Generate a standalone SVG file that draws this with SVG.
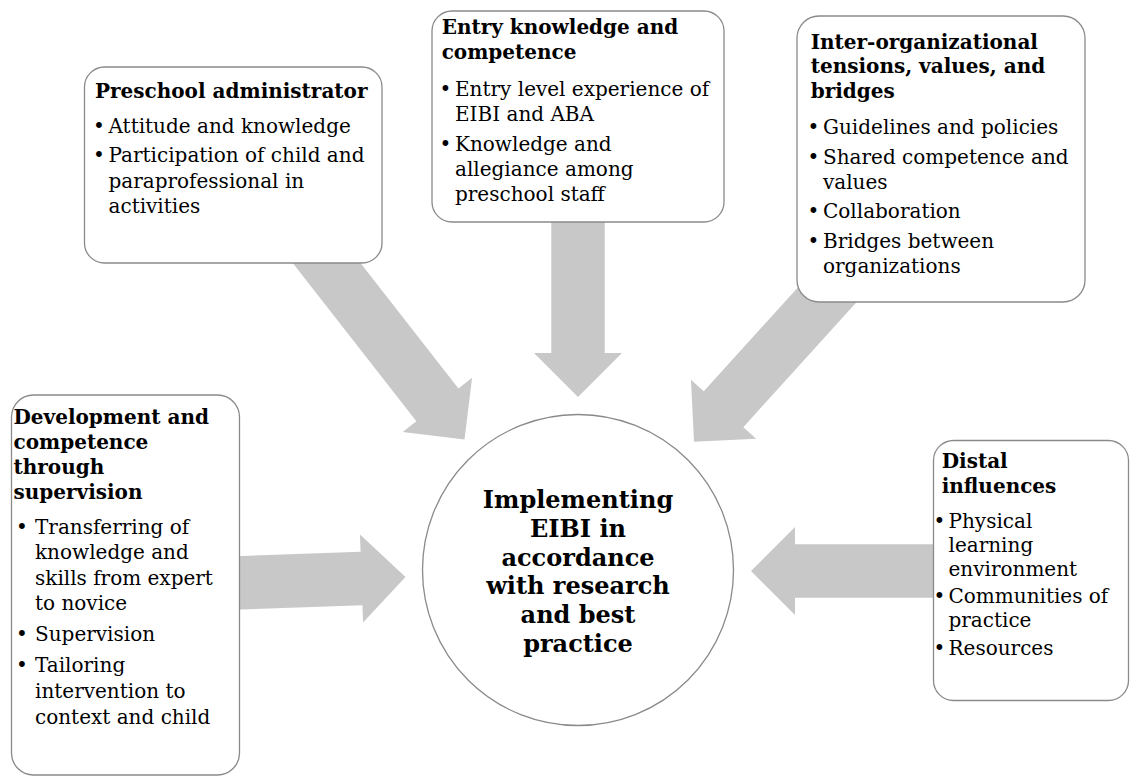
<svg xmlns="http://www.w3.org/2000/svg" width="1131" height="776" viewBox="0 0 1131 776">
<style>
.box{fill:#fff;stroke:#8a8a8a;stroke-width:1.3}
.arrow{fill:#c8c8c8}
.t{font-family:"DejaVu Serif","Liberation Serif",serif;font-weight:bold;font-size:20px;fill:#000}
.b{font-family:"DejaVu Serif","Liberation Serif",serif;font-size:20px;fill:#000}
.c{font-family:"DejaVu Serif","Liberation Serif",serif;font-weight:bold;font-size:24px;fill:#000;text-anchor:middle}
.d{text-anchor:middle}
</style>
<rect width="1131" height="776" fill="#fff"/>
<g id="connectors">
<path class="arrow" transform="translate(578,397) rotate(90)" d="M0,0 L-44,-44 L-44,-26.7 L-192,-26.7 L-192,26.7 L-44,26.7 L-44,44 Z"/>
<path class="arrow" transform="translate(464.5,439.5) rotate(52)" d="M0,0 L-44,-44 L-44,-26.7 L-260,-26.7 L-260,26.7 L-44,26.7 L-44,44 Z"/>
<path class="arrow" transform="translate(694,441.8) rotate(132.2)" d="M0,0 L-44,-44 L-44,-26.7 L-230,-26.7 L-230,26.7 L-44,26.7 L-44,44 Z"/>
<path class="arrow" transform="translate(405.5,577) rotate(-2)" d="M0,0 L-44,-44 L-44,-26.7 L-190,-26.7 L-190,26.7 L-44,26.7 L-44,44 Z"/>
<path class="arrow" transform="translate(751,571) rotate(180)" d="M0,0 L-44,-44 L-44,-26.7 L-210,-26.7 L-210,26.7 L-44,26.7 L-44,44 Z"/>
</g>
<g id="center">
<circle class="box" cx="578" cy="570" r="155.5"/>
<text class="c" x="578" y="508.3">Implementing</text>
<text class="c" x="578" y="537">EIBI in</text>
<text class="c" x="578" y="565.7">accordance</text>
<text class="c" x="578" y="594.4">with research</text>
<text class="c" x="578" y="623.1">and best</text>
<text class="c" x="578" y="651.8">practice</text>
</g>
<g id="preschool-administrator">
<rect class="box" x="84.5" y="67" width="297.5" height="196" rx="20"/>
<text class="t" x="95" y="97.5">Preschool administrator</text>
<text class="b d" x="99" y="133">•</text><text class="b" x="108.5" y="133">Attitude and knowledge</text>
<text class="b d" x="99" y="162">•</text><text class="b" x="108.5" y="162">Participation of child and</text>
<text class="b" x="108.5" y="187.5">paraprofessional in</text>
<text class="b" x="108.5" y="213">activities</text>
</g>
<g id="entry-knowledge">
<rect class="box" x="432" y="11" width="292" height="211" rx="20"/>
<text class="t" x="441.7" y="34">Entry knowledge and</text>
<text class="t" x="441.7" y="58.5">competence</text>
<text class="b d" x="445.5" y="96">•</text><text class="b" x="455" y="96">Entry level experience of</text>
<text class="b" x="455" y="121">EIBI and ABA</text>
<text class="b d" x="445.5" y="151">•</text><text class="b" x="455" y="151">Knowledge and</text>
<text class="b" x="455" y="176">allegiance among</text>
<text class="b" x="455" y="201">preschool staff</text>
</g>
<g id="inter-organizational">
<rect class="box" x="797" y="16" width="288" height="286" rx="22"/>
<text class="t" x="810.7" y="48.5">Inter-organizational</text>
<text class="t" x="810.7" y="73">tensions, values, and</text>
<text class="t" x="810.7" y="97.5">bridges</text>
<text class="b d" x="813.5" y="133.5">•</text><text class="b" x="823" y="133.5">Guidelines and policies</text>
<text class="b d" x="813.5" y="164">•</text><text class="b" x="823" y="164">Shared competence and</text>
<text class="b" x="823" y="188.5">values</text>
<text class="b d" x="813.5" y="218">•</text><text class="b" x="823" y="218">Collaboration</text>
<text class="b d" x="813.5" y="247.5">•</text><text class="b" x="823" y="247.5">Bridges between</text>
<text class="b" x="823" y="272.5">organizations</text>
</g>
<g id="development-supervision">
<rect class="box" x="11.5" y="395" width="228" height="380" rx="22"/>
<text class="t" x="13.5" y="424">Development and</text>
<text class="t" x="13.5" y="449">competence</text>
<text class="t" x="13.5" y="474">through</text>
<text class="t" x="13.5" y="499">supervision</text>
<text class="b d" x="22" y="534">•</text><text class="b" x="35" y="534">Transferring of</text>
<text class="b" x="35" y="559">knowledge and</text>
<text class="b" x="35" y="584.5">skills from expert</text>
<text class="b" x="35" y="610">to novice</text>
<text class="b d" x="22" y="641">•</text><text class="b" x="35" y="641">Supervision</text>
<text class="b d" x="22" y="672">•</text><text class="b" x="35" y="672">Tailoring</text>
<text class="b" x="35" y="697.5">intervention to</text>
<text class="b" x="35" y="723.5">context and child</text>
</g>
<g id="distal-influences">
<rect class="box" x="933.5" y="440.5" width="195" height="260" rx="20"/>
<text class="t" x="941.7" y="468">Distal</text>
<text class="t" x="941.7" y="493">influences</text>
<text class="b d" x="939.5" y="527.5">•</text><text class="b" x="948.5" y="527.5">Physical</text>
<text class="b" x="948.5" y="551.5">learning</text>
<text class="b" x="948.5" y="575.5">environment</text>
<text class="b d" x="939.5" y="603">•</text><text class="b" x="948.5" y="603">Communities of</text>
<text class="b" x="948.5" y="627">practice</text>
<text class="b d" x="939.5" y="655">•</text><text class="b" x="948.5" y="655">Resources</text>
</g>
</svg>
